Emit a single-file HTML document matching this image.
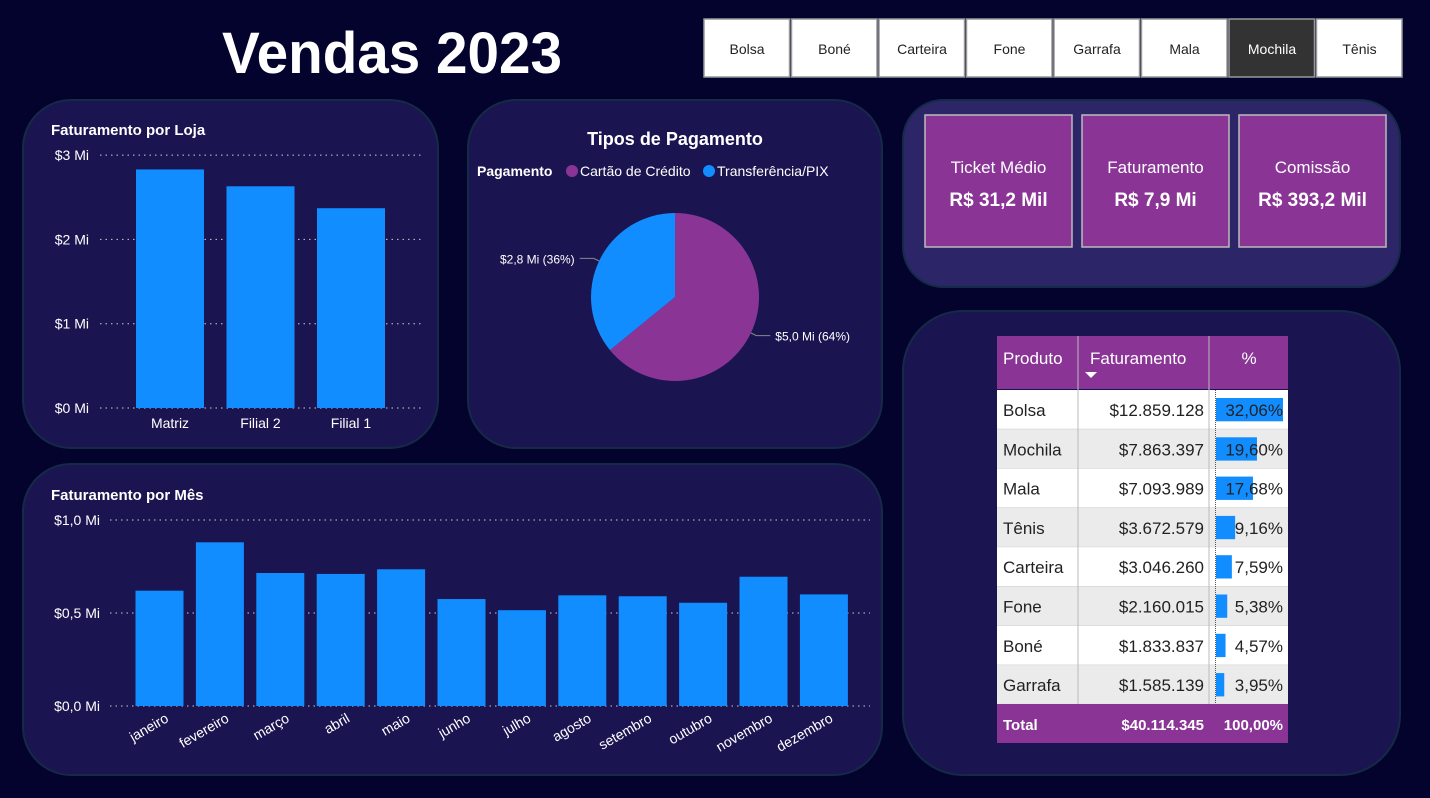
<!DOCTYPE html>
<html><head><meta charset="utf-8">
<style>
body{margin:0;width:1430px;height:798px;background:#03032e;overflow:hidden;font-family:"Liberation Sans",sans-serif}
svg{position:absolute;left:0;top:0}
text{font-family:"Liberation Sans",sans-serif}
</style></head>
<body>
<svg id="s" width="1430" height="798" xmlns="http://www.w3.org/2000/svg">
<rect x="0" y="0" width="1430" height="798" fill="#03032e"/>
<text x="392" y="73" text-anchor="middle" font-size="58" font-weight="bold" fill="#fff" textLength="340" lengthAdjust="spacingAndGlyphs">Vendas 2023</text>
<g id="buttons"></g>
<rect x="23" y="100" width="415" height="348" rx="48" fill="#1a1550" stroke="#142a45" stroke-width="2"/>
<rect x="468" y="100" width="414" height="348" rx="48" fill="#1a1550" stroke="#142a45" stroke-width="2"/>
<rect x="903" y="100" width="497" height="187" rx="40" fill="#2c2669" stroke="#142a45" stroke-width="2"/>
<rect x="903" y="311" width="497" height="464" rx="60" fill="#1a1550" stroke="#142a45" stroke-width="2"/>
<rect x="23" y="464" width="859" height="311" rx="48" fill="#1a1550" stroke="#142a45" stroke-width="2"/>
<text x="51" y="135" font-size="15" font-weight="bold" fill="#fff">Faturamento por Loja</text>
<text x="675" y="145" text-anchor="middle" font-size="18" font-weight="bold" fill="#fff">Tipos de Pagamento</text>
<text x="477" y="176" font-size="14" font-weight="bold" fill="#fff">Pagamento</text>
<circle cx="572" cy="171" r="6" fill="#8a3596"/>
<text x="580" y="176" font-size="14" fill="#fff">Cartão de Crédito</text>
<circle cx="709" cy="171" r="6" fill="#118dff"/>
<text x="717" y="176" font-size="14" fill="#fff">Transferência/PIX</text>
<text x="51" y="500" font-size="15" font-weight="bold" fill="#fff">Faturamento por Mês</text>
<g id="store"></g>
<g id="pie"></g>
<g id="month"></g>
<g id="kpi"></g>
<g id="table"></g>
</svg>
<script>
const NS="http://www.w3.org/2000/svg";
const productButtons=["Bolsa","Boné","Carteira","Fone","Garrafa","Mala","Mochila","Tênis"];
const storeCats=["Matriz","Filial 2","Filial 1"];
const storeVals=[2.83,2.63,2.37];
const storeTicks=[0,1,2,3];
const payCats=["Cartão de Crédito","Transferência/PIX"];
const payVals=[5.0,2.8];
const payLabels=["$5,0 Mi (64%)","$2,8 Mi (36%)"];
const months=["janeiro","fevereiro","março","abril","maio","junho","julho","agosto","setembro","outubro","novembro","dezembro"];
const monthVals=[0.62,0.88,0.715,0.71,0.735,0.575,0.515,0.595,0.59,0.555,0.695,0.60];
const monthTicks=[0,0.5,1.0];
const kpiLabels=["Ticket Médio","Faturamento","Comissão"];
const kpiValues=["R$ 31,2 Mil","R$ 7,9 Mi","R$ 393,2 Mil"];
const products=["Bolsa","Mochila","Mala","Tênis","Carteira","Fone","Boné","Garrafa"];
const revenue=["$12.859.128","$7.863.397","$7.093.989","$3.672.579","$3.046.260","$2.160.015","$1.833.837","$1.585.139"];
const pct=[32.06,19.60,17.68,9.16,7.59,5.38,4.57,3.95];

function mk(tag,attrs,parent,txt){const e=document.createElementNS(NS,tag);for(const k in attrs)e.setAttribute(k,attrs[k]);if(txt!==undefined)e.textContent=txt;parent.appendChild(e);return e;}

const bg=document.getElementById('buttons');
productButtons.forEach((p,i)=>{
  const x=703+i*87.5, sel=p==="Mochila";
  const r=mk('rect',{x:x+1,y:19,width:85.5,height:58,fill:sel?'#333':'#fff',stroke:'#999','stroke-width':1.5},bg);
  
  
  const t=mk('text',{x:x+44,y:54,'text-anchor':'middle','font-size':14,fill:sel?'#fff':'#222'},bg,p);
  
  
});

const sg=document.getElementById('store');
const sy=v=>408-v*84.3;
storeTicks.forEach(v=>{
  const l=mk('line',{x1:100,x2:422,y1:sy(v),y2:sy(v),stroke:'#ccc','stroke-dasharray':'1.5 4'},sg);
  
  
  const t=mk('text',{x:89,y:sy(v)+5,'text-anchor':'end','font-size':14,fill:'#fff'},sg,'$'+v+' Mi');
  
  
});
storeCats.forEach((c,i)=>{
  const cx=170+i*90.5;
  const b=mk('rect',{x:cx-34,y:sy(storeVals[i]),width:68,height:storeVals[i]*84.3,fill:'#118dff'},sg);
  
  
  const t=mk('text',{x:cx,y:428,'text-anchor':'middle','font-size':14,fill:'#fff'},sg,c);
  
  
});

const pg=document.getElementById('pie');
const pcx=675,pcy=297,pr=84;
const tot=payVals.reduce((a,b)=>a+b,0);
const cols=['#8a3596','#118dff'];
let ang=0;
payVals.forEach((v,i)=>{
  const a0=ang, a1=ang+v/tot*2*Math.PI; ang=a1;
  const p=(a)=>[pcx+pr*Math.sin(a),pcy-pr*Math.cos(a)];
  const [x0,y0]=p(a0),[x1,y1]=p(a1);
  const s=mk('path',{d:`M${pcx},${pcy} L${x0},${y0} A${pr},${pr} 0 ${a1-a0>Math.PI?1:0} 1 ${x1},${y1} Z`,fill:cols[i]},pg);
  
  
  const m=(a0+a1)/2, right=Math.sin(m)>0;
  const [ex,ey]=[pcx+(pr+6)*Math.sin(m),pcy-(pr+6)*Math.cos(m)];
  const lx=right?ex+14:ex-14;
  const ln=mk('polyline',{points:`${pcx+pr*Math.sin(m)},${pcy-pr*Math.cos(m)} ${ex},${ey} ${lx},${ey}`,fill:'none',stroke:'#888'},pg);
  
  
  const t=mk('text',{x:right?lx+5:lx-5,y:ey+5,'text-anchor':right?'start':'end','font-size':12,fill:'#fff'},pg,payLabels[i]);
  
  
});

const mg=document.getElementById('month');
const my=v=>706-v*186;
monthTicks.forEach(v=>{
  const l=mk('line',{x1:110,x2:870,y1:my(v),y2:my(v),stroke:'#ccc','stroke-dasharray':'1.5 4'},mg);
  
  
  const t=mk('text',{x:100,y:my(v)+5,'text-anchor':'end','font-size':14,fill:'#fff'},mg,'$'+v.toFixed(1).replace('.',',')+' Mi');
  
  
});
months.forEach((m,i)=>{
  const cx=159.5+i*60.4;
  const b=mk('rect',{x:cx-24,y:my(monthVals[i]),width:48,height:monthVals[i]*186,fill:'#118dff'},mg);
  
  
  const t=mk('text',{x:cx+10,y:721,'text-anchor':'end','font-size':14,fill:'#fff',transform:`rotate(-30 ${cx+10} 721)`},mg,m);
  
  
});

const kg=document.getElementById('kpi');
kpiLabels.forEach((l,i)=>{
  const x=925+i*157;
  const r=mk('rect',{x:x,y:115,width:147,height:132,fill:'#8a3596',stroke:'#bbb','stroke-width':1.5},kg);
  
  
  const t=mk('text',{x:x+73.5,y:173,'text-anchor':'middle','font-size':17,fill:'#fff'},kg,l);
  
  
  const v=mk('text',{x:x+73.5,y:206,'text-anchor':'middle','font-size':19,'font-weight':'bold',fill:'#fff'},kg,kpiValues[i]);
  
  
});

const tg=document.getElementById('table');
const h=mk('rect',{x:997,y:336,width:291,height:53,fill:'#8a3596'},tg);


[['Produto',1003,'start'],['Faturamento',1090,'start'],['%',1249,'middle']].forEach(([s,x,a])=>{
  const t=mk('text',{x:x,y:364,'text-anchor':a,'font-size':17,fill:'#fff'},tg,s);
  
  
});
const tri=mk('path',{d:'M1085,372 L1097,372 L1091,378 Z',fill:'#fff'},tg);


const rh=39.3;
products.forEach((p,i)=>{
  const y=390+i*rh;
  const r=mk('rect',{x:997,y:y,width:291,height:rh,fill:i%2?'#ebebeb':'#fff'},tg);
  
  
  const b=mk('rect',{x:1216,y:y+8,width:pct[i]*67/32.06,height:rh-16,fill:'#118dff'},tg);
  
  
  const t1=mk('text',{x:1003,y:y+26,'font-size':17,fill:'#222'},tg,p);
  
  
  const t2=mk('text',{x:1204,y:y+26,'text-anchor':'end','font-size':17,fill:'#222'},tg,revenue[i]);
  
  
  const t3=mk('text',{x:1283,y:y+26,'text-anchor':'end','font-size':17,fill:'#222'},tg,pct[i].toFixed(2).replace('.',',')+'%');
  
  
  const ln=mk('line',{x1:997,x2:1288,y1:y+rh,y2:y+rh,stroke:'#ccc'},tg);
  
  
});
[1078,1209].forEach(x=>{
  const l=mk('line',{x1:x,x2:x,y1:336,y2:743,stroke:'#bbb'},tg);
  
  
});
const zl=mk('line',{x1:1215.5,x2:1215.5,y1:390,y2:704,stroke:'#555','stroke-dasharray':'1 1'},tg);


const f=mk('rect',{x:997,y:704,width:291,height:39,fill:'#8a3596'},tg);


[['Total',1003,'start'],['$40.114.345',1204,'end'],['100,00%',1283,'end']].forEach(([s,x,a])=>{
  const t=mk('text',{x:x,y:730,'text-anchor':a,'font-size':15,'font-weight':'bold',fill:'#fff'},tg,s);
  
  
});
</script>
</body></html>
